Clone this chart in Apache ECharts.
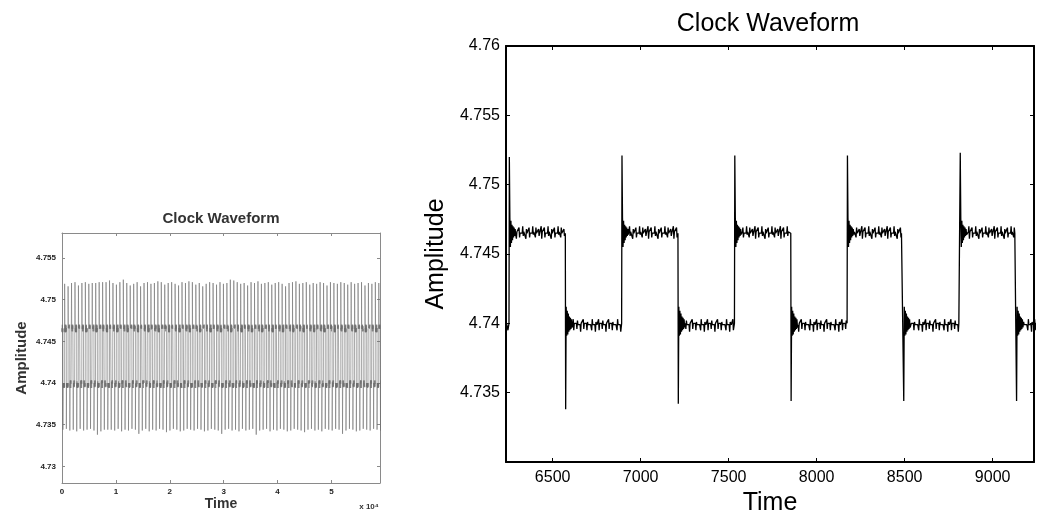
<!DOCTYPE html>
<html><head><meta charset="utf-8">
<script src="https://cdn.jsdelivr.net/npm/echarts@6/dist/echarts.min.js"></script>
<style>html,body{margin:0;padding:0;background:#fff}#c{width:1039px;height:515px}</style>
</head><body><div id="c"></div>
<script>
// ---- data ----
const riseTimes = [
  487, 1128, 1768, 2409, 3049, 3690, 4330, 4971, 5611, 6252,
  6892, 7533, 8173, 8814, 9454, 10095, 10735, 11376, 12016, 12657,
  13297, 13938, 14578, 15219, 15859, 16500, 17140, 17781, 18421, 19062,
  19702, 20343, 20983, 21624, 22264, 22905, 23545, 24186, 24826, 25467,
  26107, 26748, 27388, 28029, 28669, 29310, 29950, 30591, 31231, 31872,
  32512, 33153, 33793, 34434, 35074, 35715, 36355, 36996, 37636, 38277,
  38917, 39558, 40198, 40839, 41479, 42120, 42760, 43401, 44041, 44682,
  45322, 45963, 46603, 47244, 47884, 48525, 49165, 49806, 50446, 51087,
  51727, 52368, 53008, 53649, 54289, 54930, 55570, 56211, 56851, 57492,
  58132, 58773];
const pulseWidth = 320;
const firstFallTime = 167;
const firstFallPeak = 4.7344;
const highLevel = 4.7465;
const lowLevel = 4.7400;
const peakHigh = [
  4.7519, 4.7516, 4.7520, 4.7521, 4.7517, 4.7520, 4.7521, 4.7519, 4.7520, 4.7520,
  4.7521, 4.7521, 4.7521, 4.7523, 4.7520, 4.7518, 4.7521, 4.7524, 4.7520, 4.7517,
  4.7519, 4.7521, 4.7516, 4.7520, 4.7521, 4.7519, 4.7520, 4.7522, 4.7521, 4.7518,
  4.7520, 4.7521, 4.7519, 4.7517, 4.7521, 4.7520, 4.7522, 4.7521, 4.7518, 4.7520,
  4.7516, 4.7519, 4.7521, 4.7520, 4.7518, 4.7521, 4.7519, 4.7520, 4.7524, 4.7523,
  4.7521, 4.7519, 4.7520, 4.7517, 4.7521, 4.7520, 4.7522, 4.7519, 4.7520, 4.7521,
  4.7518, 4.7520, 4.7521, 4.7519, 4.7516, 4.7520, 4.7521, 4.7522, 4.7519, 4.7520,
  4.7521, 4.7518, 4.7520, 4.7519, 4.7521, 4.7520, 4.7517, 4.7521, 4.7520, 4.7519,
  4.7521, 4.7520, 4.7518, 4.7521, 4.7519, 4.7520, 4.7521, 4.7517, 4.7520, 4.7519,
  4.7521, 4.7520];
const peakLow = [
  4.7345, 4.7343, 4.7344, 4.7342, 4.7345, 4.7343, 4.7344, 4.7345, 4.7343, 4.7338,
  4.7342, 4.7344, 4.7344, 4.7344, 4.7343, 4.7345, 4.7342, 4.7344, 4.7343, 4.7345,
  4.7344, 4.7339, 4.7343, 4.7345, 4.7342, 4.7344, 4.7343, 4.7345, 4.7344, 4.7341,
  4.7343, 4.7345, 4.7344, 4.7342, 4.7343, 4.7345, 4.7344, 4.7343, 4.7345, 4.7344,
  4.7342, 4.7343, 4.7345, 4.7344, 4.7343, 4.7339, 4.7344, 4.7345, 4.7343, 4.7344,
  4.7342, 4.7345, 4.7343, 4.7344, 4.7345, 4.7338, 4.7343, 4.7344, 4.7345, 4.7342,
  4.7344, 4.7343, 4.7345, 4.7344, 4.7342, 4.7343, 4.7345, 4.7344, 4.7343, 4.7341,
  4.7344, 4.7345, 4.7343, 4.7344, 4.7342, 4.7345, 4.7344, 4.7343, 4.7345, 4.7344,
  4.7339, 4.7343, 4.7345, 4.7344, 4.7342, 4.7343, 4.7345, 4.7344, 4.7343, 4.7345,
  4.7344, 4.7343];
const riseRing = [4.7476, 4.7455, 4.7474, 4.7458, 4.7471, 4.7460, 4.7470, 4.7462, 4.7469, 4.7463, 4.7468, 4.7464];
const fallRing = [4.7412, 4.7391, 4.7409, 4.7392, 4.7407, 4.7394, 4.7405, 4.7395, 4.7404, 4.7396, 4.7403, 4.7397];
const highNoise = [
  4.7465, 4.7466, 4.7470, 4.7461, 4.7466, 4.7465, 4.7466, 4.7465,
  4.7469, 4.7462, 4.7465, 4.7466, 4.7465, 4.7466, 4.7465, 4.7470,
  4.7463, 4.7466, 4.7465, 4.7466, 4.7465, 4.7461, 4.7468, 4.7465,
  4.7466, 4.7465, 4.7466, 4.7469, 4.7462, 4.7465, 4.7466, 4.7465,
  4.7466, 4.7465, 4.7470, 4.7464, 4.7466, 4.7465, 4.7466, 4.7462,
  4.7469, 4.7465, 4.7466, 4.7465, 4.7466, 4.7468, 4.7463, 4.7465];
const lowNoise = [
  4.7400, 4.7399, 4.7400, 4.7395, 4.7403, 4.7399, 4.7400, 4.7399,
  4.7400, 4.7399, 4.7394, 4.7401, 4.7400, 4.7399, 4.7400, 4.7399,
  4.7403, 4.7395, 4.7400, 4.7399, 4.7400, 4.7399, 4.7400, 4.7396,
  4.7402, 4.7399, 4.7400, 4.7399, 4.7400, 4.7399, 4.7394, 4.7400,
  4.7399, 4.7400, 4.7399, 4.7403, 4.7396, 4.7400, 4.7399, 4.7400,
  4.7399, 4.7400, 4.7395, 4.7401, 4.7399, 4.7400, 4.7399, 4.7400];
const leftXTicks = [0, 10000, 20000, 30000, 40000, 50000];
const leftYTicks = [4.73, 4.735, 4.74, 4.745, 4.75, 4.755];
const rightXTicks = [6500, 7000, 7500, 8000, 8500, 9000];
const rightYTicks = [4.735, 4.74, 4.745, 4.75, 4.755, 4.76];

// ---- assemble the line from the values above ----
function buildWave(stride, withRing) {
  const pts = [];
  const step = 3 * stride;
  function plateau(t0, t1, noise, off) {
    let i = 0;
    for (let t = t0; t <= t1; t += step, i++) pts.push([t, noise[(off + i * stride) % noise.length]]);
  }
  function ring(t0, peak, values) {
    pts.push([t0 + 2, peak]);
    if (withRing) values.forEach((v, j) => pts.push([t0 + 5 + 3 * j, v]));
  }
  pts.push([0, highLevel]);
  plateau(8, firstFallTime - 6, highNoise, 0);
  pts.push([firstFallTime, highLevel]);
  ring(firstFallTime, firstFallPeak, fallRing);
  plateau(firstFallTime + 42, riseTimes[0] - 4, lowNoise, 0);
  riseTimes.forEach((r, k) => {
    const f = r + pulseWidth;
    const next = k + 1 < riseTimes.length ? riseTimes[k + 1] : 59500;
    pts.push([r, lowLevel]);
    ring(r, peakHigh[k], riseRing);
    plateau(r + 42, f - 4, highNoise, (k * 11) % highNoise.length);
    pts.push([f, highLevel]);
    ring(f, peakLow[k], fallRing);
    plateau(f + 42, next - 4, lowNoise, (k * 7) % lowNoise.length);
  });
  return pts;
}
const leftData = buildWave(3, false);
const rightData = buildWave(1, true).filter(p => p[0] >= 6150 && p[0] <= 9320);

const FONT = "'Liberation Sans', Arial, sans-serif";
const fmtY = v => String(parseFloat(v.toFixed(4)));

const chart = echarts.init(document.getElementById('c'), null, { renderer: 'canvas' });
const leftAxisLine = { show: true, onZero: false, lineStyle: { color: '#8a8a8a', width: 1 } };
const leftTick = (t) => ({ show: true, inside: true, length: 3, customValues: t, lineStyle: { color: '#8a8a8a', width: 1 } });
const rightAxisLine = { show: true, onZero: false, lineStyle: { color: '#000', width: 2 } };
const rightTick = (t) => ({ show: true, inside: true, length: 4, customValues: t, lineStyle: { color: '#000', width: 1 } });

chart.setOption({
  animation: false,
  backgroundColor: '#fff',
  textStyle: { fontFamily: FONT },
  grid: [
    { left: 62, top: 233, width: 318, height: 250, outerBoundsMode: 'none', containLabel: false },
    { left: 506, top: 46, width: 528, height: 416, outerBoundsMode: 'none', containLabel: false }
  ],
  xAxis: [
    { gridIndex: 0, type: 'value', position: 'bottom', min: 0, max: 59000,
      splitLine: { show: false }, axisLine: leftAxisLine, axisTick: leftTick(leftXTicks),
      axisLabel: { customValues: leftXTicks, fontSize: 8, fontWeight: 'bold', color: '#222', margin: 5,
        fontFamily: FONT, formatter: v => String(Math.round(v / 10000)) },
      name: 'Time', nameLocation: 'middle', nameGap: 13,
      nameTextStyle: { fontSize: 14, fontWeight: 'bold', color: '#333', fontFamily: FONT } },
    { gridIndex: 0, type: 'value', position: 'top', min: 0, max: 59000,
      splitLine: { show: false }, axisLine: leftAxisLine, axisTick: leftTick(leftXTicks),
      axisLabel: { show: false } },
    { gridIndex: 1, type: 'value', position: 'bottom', min: 6235, max: 9235,
      splitLine: { show: false }, axisLine: rightAxisLine, axisTick: rightTick(rightXTicks),
      axisLabel: { customValues: rightXTicks, fontSize: 16, color: '#000', margin: 8, fontFamily: FONT,
        formatter: v => String(v) },
      name: 'Time', nameLocation: 'middle', nameGap: 23,
      nameTextStyle: { fontSize: 25, color: '#000', fontFamily: FONT } },
    { gridIndex: 1, type: 'value', position: 'top', min: 6235, max: 9235,
      splitLine: { show: false }, axisLine: rightAxisLine, axisTick: rightTick(rightXTicks),
      axisLabel: { show: false } }
  ],
  yAxis: [
    { gridIndex: 0, type: 'value', position: 'left', min: 4.728, max: 4.758,
      splitLine: { show: false }, axisLine: leftAxisLine, axisTick: leftTick(leftYTicks),
      axisLabel: { customValues: leftYTicks, fontSize: 8, fontWeight: 'bold', color: '#222', margin: 6,
        fontFamily: FONT, formatter: fmtY },
      name: 'Amplitude', nameLocation: 'middle', nameGap: 33,
      nameTextStyle: { fontSize: 15, fontWeight: 'bold', color: '#333', fontFamily: FONT } },
    { gridIndex: 0, type: 'value', position: 'right', min: 4.728, max: 4.758,
      splitLine: { show: false }, axisLine: leftAxisLine, axisTick: leftTick(leftYTicks),
      axisLabel: { show: false } },
    { gridIndex: 1, type: 'value', position: 'left', min: 4.73, max: 4.76,
      splitLine: { show: false }, axisLine: rightAxisLine, axisTick: rightTick(rightYTicks),
      axisLabel: { customValues: rightYTicks, fontSize: 16, color: '#000', margin: 6, fontFamily: FONT, formatter: fmtY },
      name: 'Amplitude', nameLocation: 'middle', nameGap: 55,
      nameTextStyle: { fontSize: 25, color: '#000', fontFamily: FONT } },
    { gridIndex: 1, type: 'value', position: 'right', min: 4.73, max: 4.76,
      splitLine: { show: false }, axisLine: rightAxisLine, axisTick: rightTick(rightYTicks),
      axisLabel: { show: false } }
  ],
  graphic: [
    { type: 'text', x: 221, y: 219, style: { text: 'Clock Waveform', font: "bold 15px " + FONT, fill: '#333', align: 'center', verticalAlign: 'middle' } },
    { type: 'text', x: 369, y: 507, style: { text: 'x 10⁴', font: "bold 8px " + FONT, fill: '#333', align: 'center', verticalAlign: 'middle' } },
    { type: 'text', x: 768, y: 24, style: { text: 'Clock Waveform', font: "25px " + FONT, fill: '#000', align: 'center', verticalAlign: 'middle' } }
  ],
  series: [
    { type: 'line', xAxisIndex: 0, yAxisIndex: 0, data: leftData, showSymbol: false, symbol: 'none',
      lineStyle: { color: '#707070', width: 0.6 }, clip: true, silent: true },
    { type: 'line', xAxisIndex: 2, yAxisIndex: 2, data: rightData, showSymbol: false, symbol: 'none',
      lineStyle: { color: '#000', width: 1.3 }, clip: true, silent: true }
  ]
});
</script>
</body></html>
